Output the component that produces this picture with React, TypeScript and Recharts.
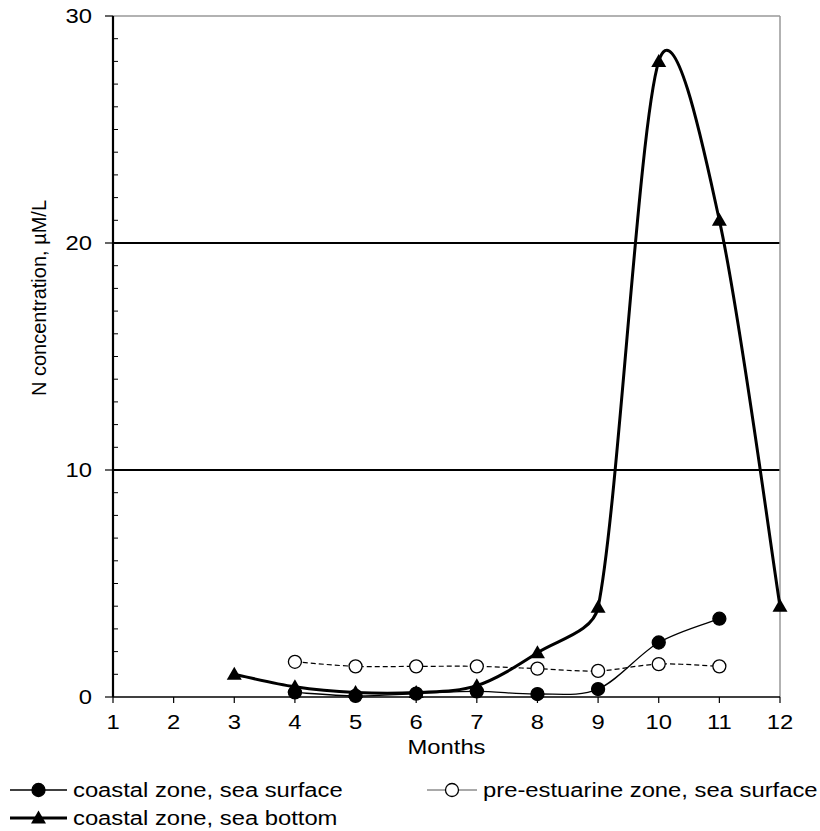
import { CartesianGrid, Line, LineChart, ReferenceLine, XAxis, YAxis } from "recharts";

const months = [1, 2, 3, 4, 5, 6, 7, 8, 9, 10, 11, 12];
const coastalSurface = [null, null, null, 0.2, 0.05, 0.15, 0.25, 0.13, 0.35, 2.4, 3.45, null];
const preEstuarine = [null, null, null, 1.55, 1.35, 1.35, 1.35, 1.25, 1.15, 1.45, 1.35, null];
const coastalBottom = [null, null, 1.0, 0.45, 0.2, 0.2, 0.5, 1.95, 3.95, 28, 21, 4];
const yTicks = [0, 1, 2, 3, 4, 5, 6, 7, 8, 9, 10, 11, 12, 13, 14, 15, 16, 17, 18, 19, 20, 21, 22, 23, 24, 25, 26, 27, 28, 29, 30];
const legendNames = ["coastal zone, sea surface", "pre-estuarine zone, sea surface", "coastal zone, sea bottom"];

const data = months.map((m, i) => ({
  month: m,
  surface: coastalSurface[i],
  pre: preEstuarine[i],
  bottom: coastalBottom[i],
}));

const FONT = "'Liberation Sans', Arial, sans-serif";
const STRETCH = 1.19;

// spreadsheet-style smoothing: catmull-rom handles, capped at a third of the segment
const smooth = (context: any) => {
  let pts: number[][] = [];
  return {
    areaStart() {},
    areaEnd() {},
    lineStart() {
      pts = [];
    },
    point(x: number, y: number) {
      pts.push([x, y]);
    },
    lineEnd() {
      if (!pts.length) return;
      context.moveTo(pts[0][0], pts[0][1]);
      for (let i = 0; i < pts.length - 1; i++) {
        const p0 = pts[Math.max(i - 1, 0)];
        const p1 = pts[i];
        const p2 = pts[i + 1];
        const p3 = pts[Math.min(i + 2, pts.length - 1)];
        const d = Math.hypot(p2[0] - p1[0], p2[1] - p1[1]);
        const handle = (a: number[], b: number[]) => {
          let dx = (b[0] - a[0]) / 6;
          let dy = (b[1] - a[1]) / 6;
          const l = Math.hypot(dx, dy);
          const m = d / 3;
          if (l > m) {
            dx *= m / l;
            dy *= m / l;
          }
          return [dx, dy];
        };
        const [ax, ay] = handle(p0, p2);
        const [bx, by] = handle(p1, p3);
        context.bezierCurveTo(p1[0] + ax, p1[1] + ay, p2[0] - bx, p2[1] - by, p2[0], p2[1]);
      }
    },
  };
};

function WideText({ x, y, anchor = "start", children }: any) {
  return (
    <text
      transform={`translate(${x},${y}) scale(${STRETCH},1)`}
      textAnchor={anchor}
      dominantBaseline="central"
      fontFamily={FONT}
      fontSize={20}
      fill="#000"
    >
      {children}
    </text>
  );
}

function YTick({ x, y, payload }: any) {
  const major = payload.value % 10 === 0;
  return (
    <g>
      {major ? (
        <line x1={x - 8} x2={x} y1={y} y2={y} stroke="#000" strokeWidth={1.2} />
      ) : (
        <line x1={x} x2={x + 5} y1={y} y2={y} stroke="#000" strokeWidth={1} />
      )}
      {major && (
        <WideText x={x - 21} y={y} anchor="end">
          {payload.value}
        </WideText>
      )}
    </g>
  );
}

function XTick({ x, y, payload }: any) {
  return (
    <g>
      <line x1={x} x2={x} y1={y} y2={y + 6} stroke="#000" strokeWidth={1.2} />
      <WideText x={x} y={y + 25} anchor="middle">
        {payload.value}
      </WideText>
    </g>
  );
}

function Triangle({ cx, cy }: any) {
  if (cx == null || cy == null) return <g />;
  return <polygon points={`${cx - 7.5},${cy + 5.5} ${cx + 7.5},${cy + 5.5} ${cx},${cy - 7.5}`} fill="#000" />;
}

function Circle({ cx, cy, fill }: { cx: number; cy: number; fill: string }) {
  return <circle cx={cx} cy={cy} r={6.5} fill={fill} stroke="#000" strokeWidth={1.3} />;
}

function LegendRow({ y, x, name, kind, len }: any) {
  const lineEnd = x + len;
  const mid = x + len / 2;
  return (
    <g>
      <line
        x1={x}
        x2={lineEnd}
        y1={y}
        y2={y}
        stroke={kind === "open" ? "#555" : "#000"}
        strokeWidth={kind === "tri" ? 3 : kind === "open" ? 1 : 1.5}
      />
      {kind === "tri" && <Triangle cx={mid} cy={y} />}
      {kind === "fill" && <Circle cx={mid} cy={y} fill="#000" />}
      {kind === "open" && <Circle cx={mid} cy={y} fill="#fff" />}
      <WideText x={lineEnd + 6} y={y}>
        {name}
      </WideText>
    </g>
  );
}

export default function App() {
  return (
    <div style={{ position: "absolute", left: 0, top: 0, width: 820, height: 831, background: "#fff" }}>
      <LineChart width={820} height={760} data={data} margin={{ top: 16, right: 40, left: 0, bottom: 0 }}>
        <CartesianGrid
          horizontal
          vertical={false}
          horizontalValues={[10, 20]}
          stroke="#000"
          strokeWidth={1.2}
          shapeRendering="crispEdges"
        />
        <ReferenceLine y={30} stroke="#999" strokeWidth={1.5} />
        <ReferenceLine x={12} stroke="#999" strokeWidth={1.5} />
        <XAxis
          dataKey="month"
          type="number"
          domain={[1, 12]}
          ticks={months}
          interval={0}
          tickSize={0}
          tickMargin={0}
          tick={<XTick />}
          height={63}
          axisLine={{ stroke: "#000", strokeWidth: 1.5 }}
          label={{
            content: ({ viewBox }: any) => (
              <WideText x={viewBox.x + viewBox.width / 2} y={viewBox.y + 50} anchor="middle">
                Months
              </WideText>
            ),
          }}
        />
        <YAxis
          type="number"
          domain={[0, 30]}
          ticks={yTicks}
          interval={0}
          width={113}
          tickSize={0}
          tickMargin={0}
          tick={<YTick />}
          axisLine={{ stroke: "#000", strokeWidth: 2.2 }}
          label={{
            content: ({ viewBox }: any) => (
              <text
                transform={`translate(${viewBox.x + 39},298) rotate(-90)`}
                textAnchor="middle"
                dominantBaseline="central"
                fontFamily={FONT}
                fontSize={20}
                fill="#000"
              >
                N concentration, µM/L
              </text>
            ),
          }}
        />
        <Line
          dataKey="surface"
          type={smooth as any}
          stroke="#000"
          strokeWidth={1.3}
          dot={(p: any) => (p.cy == null ? <g key={p.key} /> : <Circle key={p.key} cx={p.cx} cy={p.cy} fill="#000" />)}
          isAnimationActive={false}
        />
        <Line
          dataKey="pre"
          type={smooth as any}
          stroke="#000"
          strokeWidth={1.2}
          strokeDasharray="5 3"
          dot={(p: any) => (p.cy == null ? <g key={p.key} /> : <Circle key={p.key} cx={p.cx} cy={p.cy} fill="#fff" />)}
          isAnimationActive={false}
        />
        <Line
          dataKey="bottom"
          type={smooth as any}
          stroke="#000"
          strokeWidth={3}
          dot={(p: any) => <Triangle key={p.key} cx={p.cx} cy={p.cy} />}
          isAnimationActive={false}
        />
      </LineChart>
      <svg width={820} height={71} style={{ position: "absolute", left: 0, top: 760 }}>
        <LegendRow x={10} y={30} len={57} name={legendNames[0]} kind="fill" />
        <LegendRow x={427} y={30} len={50} name={legendNames[1]} kind="open" />
        <LegendRow x={10} y={58} len={57} name={legendNames[2]} kind="tri" />
      </svg>
    </div>
  );
}
